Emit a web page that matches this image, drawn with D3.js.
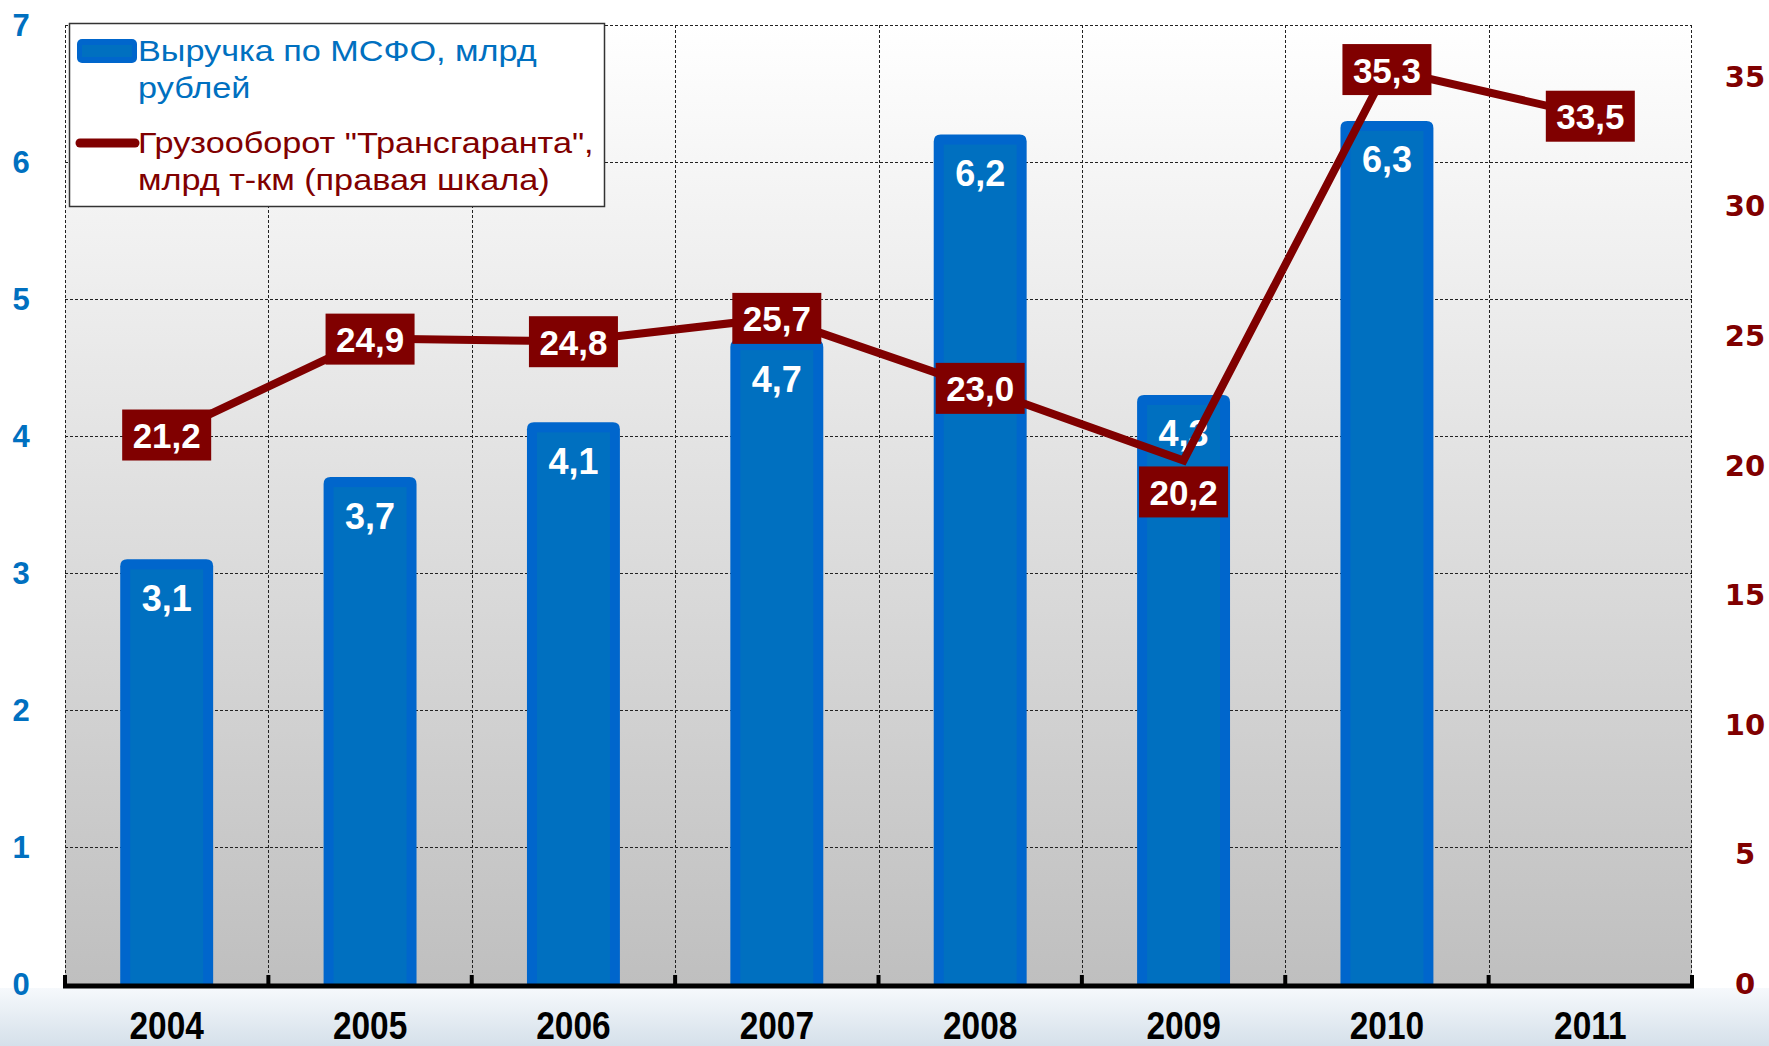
<!DOCTYPE html>
<html><head><meta charset="utf-8">
<script src="https://cdn.jsdelivr.net/npm/d3@7"></script>
<style>html,body{margin:0;padding:0;background:#fff;}svg{display:block;}</style>
</head><body>
<svg id="c" width="1769" height="1046"></svg>
<script>
const years = ["2004","2005","2006","2007","2008","2009","2010","2011"];
const revenue = [3.1, 3.7, 4.1, 4.7, 6.2, 4.3, 6.3, null];
const turnover = [21.2, 24.9, 24.8, 25.7, 23.0, 20.2, 35.3, 33.5];
const leftTicks = [0,1,2,3,4,5,6,7];
const rightTicks = [0,5,10,15,20,25,30,35];
const legendRevenue = ["Выручка по МСФО, млрд", "рублей"];
const legendTurnover = ["Грузооборот \"Трансгаранта\",", "млрд т-км (правая шкала)"];

const fmt = v => v.toFixed(1).replace(".", ",");
const svg = d3.select("#c");
const L = 65, R = 1692, T = 25, B = 984;
const FONT = "Liberation Sans, Arial, sans-serif";

const x = d3.scaleBand().domain(years).range([L, R]).padding(0);
const yL = d3.scaleLinear().domain([0, 7]).range([B, T]);
const yR = d3.scaleLinear().domain([0, 37]).range([B, T]);
const bw = x.bandwidth();

const defs = svg.append("defs");
const g1 = defs.append("linearGradient").attr("id","plotbg").attr("x1",0).attr("y1",0).attr("x2",0).attr("y2",1);
g1.append("stop").attr("offset","0%").attr("stop-color","#ffffff");
g1.append("stop").attr("offset","100%").attr("stop-color","#bfbfbf");
const g2 = defs.append("linearGradient").attr("id","footbg").attr("x1",0).attr("y1",0).attr("x2",0).attr("y2",1);
g2.append("stop").attr("offset","0%").attr("stop-color","#f6f9fc");
g2.append("stop").attr("offset","100%").attr("stop-color","#d5e0ea");

svg.append("rect").attr("x",0).attr("y",B+4).attr("width",1769).attr("height",1046-B-4).attr("fill","url(#footbg)");
svg.append("rect").attr("x",L).attr("y",T).attr("width",R-L).attr("height",B-T).attr("fill","url(#plotbg)");

// gridlines
const grid = svg.append("g").attr("stroke","#222").attr("stroke-width",1).attr("stroke-dasharray","3,2");
leftTicks.filter(t=>t>0).forEach(t=>{
  grid.append("line").attr("x1",L).attr("x2",R).attr("y1",yL(t)+0.5).attr("y2",yL(t)+0.5);
});
years.forEach(yr=>{
  const xx = Math.round(x(yr))+0.5;
  grid.append("line").attr("x1",xx).attr("x2",xx).attr("y1",T).attr("y2",B);
});
grid.append("line").attr("x1",R-0.5).attr("x2",R-0.5).attr("y1",T).attr("y2",B);

// bars
const bars = svg.append("g");
years.forEach((yr,i)=>{
  const v = revenue[i];
  if (v == null) return;
  const w = bw*0.457, bx = x(yr) + (bw-w)/2;
  const top = yL(v), r = 7;
  bars.append("path")
    .attr("d", `M${bx},${B} L${bx},${top+r} Q${bx},${top} ${bx+r},${top} L${bx+w-r},${top} Q${bx+w},${top} ${bx+w},${top+r} L${bx+w},${B} Z`)
    .attr("fill","#0066cc");
  bars.append("rect").attr("x",bx+10).attr("y",top+10).attr("width",w-20).attr("height",B-top-10).attr("fill","#0070c0");
  bars.append("text").attr("x", x(yr)+bw/2).attr("y", top+39)
    .attr("text-anchor","middle").attr("dominant-baseline","central")
    .attr("font-family",FONT).attr("font-weight","bold")
    .attr("font-size",36).attr("fill","#fff").text(fmt(v));
});

// baseline axis
const ax = svg.append("g");
ax.append("line").attr("x1",L-2).attr("x2",R+2).attr("y1",B+2).attr("y2",B+2).attr("stroke","#000").attr("stroke-width",5);
years.concat(["end"]).forEach(yr=>{
  const xx = yr==="end" ? R : x(yr);
  ax.append("line").attr("x1",xx).attr("x2",xx).attr("y1",B-9).attr("y2",B+2).attr("stroke","#000").attr("stroke-width",4);
});

// line
const line = d3.line().x((d,i)=>x(years[i])+bw/2).y(d=>yR(d));
svg.append("path").datum(turnover).attr("d",line).attr("fill","none")
  .attr("stroke","#800000").attr("stroke-width",8).attr("stroke-linejoin","miter");

// line labels
const ll = svg.append("g");
turnover.forEach((v,i)=>{
  const cx = x(years[i])+bw/2;
  let cy = yR(v);
  if (years[i]==="2009") cy += 31;
  ll.append("rect").attr("x",cx-44.5).attr("y",cy-25).attr("width",89).attr("height",51).attr("fill","#800000");
  ll.append("text").attr("x",cx).attr("y",cy+1).attr("text-anchor","middle").attr("dominant-baseline","central")
    .attr("font-family",FONT).attr("font-weight","bold")
    .attr("font-size",35).attr("fill","#fff").text(fmt(v));
});

// left axis labels
const la = svg.append("g");
leftTicks.forEach(t=>{
  la.append("text").attr("x",21).attr("y",yL(t)).attr("text-anchor","middle").attr("dominant-baseline","central")
    .attr("font-family",FONT).attr("font-weight","bold")
    .attr("font-size",31).attr("fill","#0070c0").text(t);
});
// right axis labels
rightTicks.forEach(t=>{
  la.append("text").attr("x",1745).attr("y",yR(t)).attr("text-anchor","middle").attr("dominant-baseline","central")
    .attr("font-family","DejaVu Sans, Verdana, sans-serif").attr("font-weight","bold")
    .attr("font-size",29).attr("fill","#800000").text(t);
});
// category labels (condensed bold)
years.forEach(yr=>{
  const cx = x(yr)+bw/2;
  la.append("g").attr("transform",`translate(${cx},1039) scale(0.88,1)`)
    .append("text").attr("x",0).attr("y",0).attr("text-anchor","middle")
    .attr("font-family",FONT).attr("font-weight","bold")
    .attr("font-size",38).attr("fill","#000").text(yr);
});

// legend
const lg = svg.append("g");
lg.append("rect").attr("x",69.5).attr("y",23.5).attr("width",535).attr("height",183).attr("fill","#fff").attr("stroke","#333").attr("stroke-width",1.5);
lg.append("rect").attr("x",77).attr("y",39).attr("width",60).attr("height",24).attr("rx",5).attr("fill","#0066cc");
lg.append("rect").attr("x",82).attr("y",45).attr("width",50).attr("height",12).attr("fill","#0070c0");
lg.append("line").attr("x1",80).attr("x2",135).attr("y1",143).attr("y2",143).attr("stroke","#800000").attr("stroke-width",9).attr("stroke-linecap","round");
const lt1 = lg.append("g").attr("transform","translate(138,0) scale(1.18,1)");
legendRevenue.forEach((s,i)=>{
  lt1.append("text").attr("x",0).attr("y",51+i*37).attr("dominant-baseline","central")
    .attr("font-family",FONT).attr("font-size",29).attr("fill","#0070c0").text(s);
});
const lt2 = lg.append("g").attr("transform","translate(138,0) scale(1.18,1)");
legendTurnover.forEach((s,i)=>{
  lt2.append("text").attr("x",0).attr("y",143+i*37).attr("dominant-baseline","central")
    .attr("font-family",FONT).attr("font-size",29).attr("fill","#800000").text(s);
});
</script>
</body></html>
